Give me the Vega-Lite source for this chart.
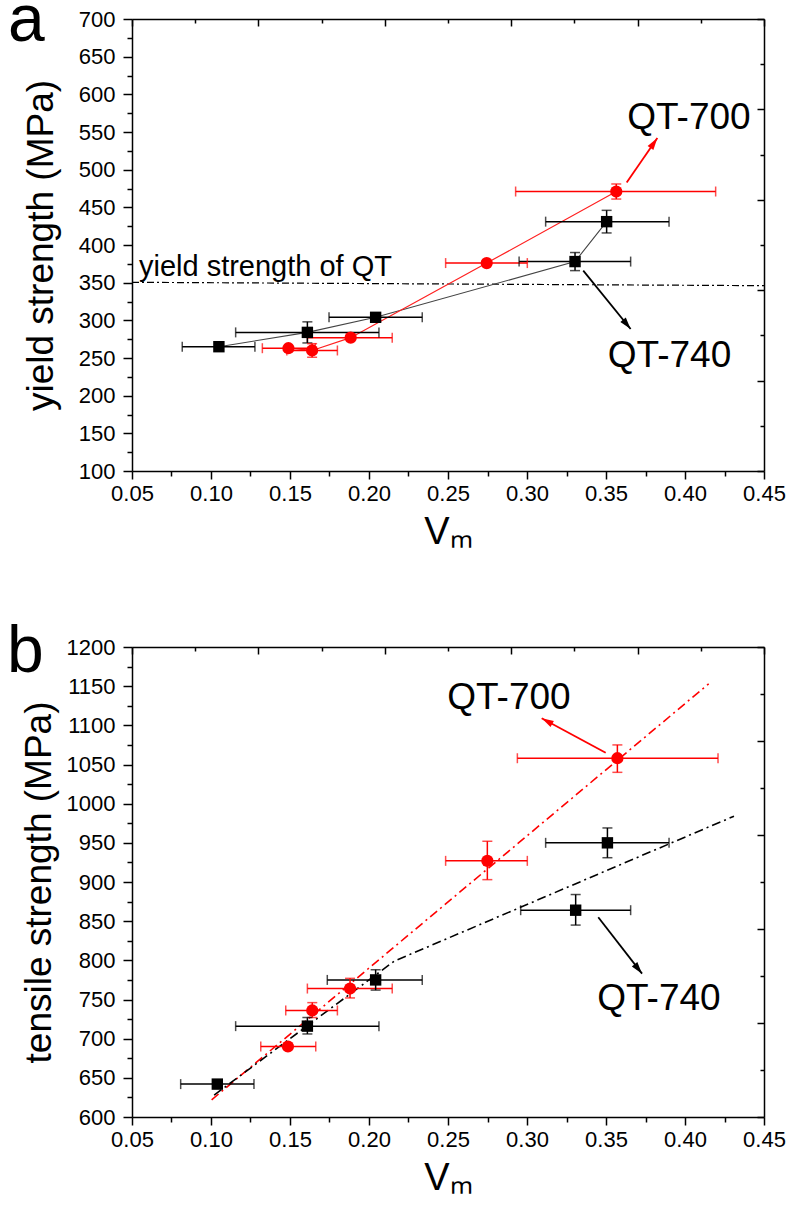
{
  "$schema": "https://vega.github.io/schema/vega-lite/v6.json",
  "padding": {"left": 7, "top": -13, "right": 0, "bottom": 0},
  "spacing": 68,
  "config": {
    "view": {"stroke": null},
    "text": {"font": "Liberation Sans", "color": "black"},
    "axis": {
      "labelFont": "Liberation Sans", "labelFontSize": 22, "labelColor": "black",
      "titleFont": "Liberation Sans", "titleFontSize": 37, "titleFontWeight": "normal", "titleColor": "black",
      "tickColor": "black", "domainColor": "black", "domainWidth": 1.5, "tickWidth": 1.5,
      "grid": false, "labelOverlap": false, "labelFlush": false, "labelBound": false
    }
  },
  "datasets": {
    "pa": [
      {"g": "QT-740", "x": 0.105, "y": 265, "xlo": 0.0818, "xhi": 0.1278},
      {"g": "QT-740", "x": 0.161, "y": 284, "xlo": 0.1156, "xhi": 0.2063, "ylo": 270, "yhi": 298},
      {"g": "QT-740", "x": 0.2042, "y": 304, "xlo": 0.1747, "xhi": 0.2337},
      {"g": "QT-740", "x": 0.3304, "y": 378, "xlo": 0.295, "xhi": 0.3656, "ylo": 366, "yhi": 390},
      {"g": "QT-740", "x": 0.3504, "y": 431, "xlo": 0.3118, "xhi": 0.3899, "ylo": 416, "yhi": 446},
      {"g": "QT-700", "x": 0.149, "y": 263, "xlo": 0.1325, "xhi": 0.166},
      {"g": "QT-700", "x": 0.164, "y": 260, "xlo": 0.148, "xhi": 0.18, "ylo": 251, "yhi": 269},
      {"g": "QT-700", "x": 0.1884, "y": 277, "xlo": 0.161, "xhi": 0.2147},
      {"g": "QT-700", "x": 0.2745, "y": 376, "xlo": 0.2485, "xhi": 0.3002},
      {"g": "QT-700", "x": 0.3565, "y": 471, "xlo": 0.2928, "xhi": 0.4194, "ylo": 461, "yhi": 481}
    ],
    "pb": [
      {"g": "QT-740", "x": 0.104, "y": 642, "xlo": 0.0808, "xhi": 0.1272},
      {"g": "QT-740", "x": 0.161, "y": 716, "xlo": 0.1156, "xhi": 0.2063, "ylo": 706, "yhi": 727},
      {"g": "QT-740", "x": 0.2042, "y": 775, "xlo": 0.1736, "xhi": 0.2337, "ylo": 762, "yhi": 788},
      {"g": "QT-740", "x": 0.3308, "y": 864, "xlo": 0.296, "xhi": 0.3656, "ylo": 845, "yhi": 884},
      {"g": "QT-740", "x": 0.3509, "y": 950, "xlo": 0.3118, "xhi": 0.3899, "ylo": 931, "yhi": 969},
      {"g": "QT-700", "x": 0.1487, "y": 690, "xlo": 0.1315, "xhi": 0.1663},
      {"g": "QT-700", "x": 0.1641, "y": 736, "xlo": 0.1473, "xhi": 0.18, "ylo": 727, "yhi": 746},
      {"g": "QT-700", "x": 0.188, "y": 764, "xlo": 0.161, "xhi": 0.2147, "ylo": 752, "yhi": 777},
      {"g": "QT-700", "x": 0.2749, "y": 927, "xlo": 0.2485, "xhi": 0.3002, "ylo": 903, "yhi": 952},
      {"g": "QT-700", "x": 0.3572, "y": 1058, "xlo": 0.2939, "xhi": 0.4209, "ylo": 1040, "yhi": 1075}
    ]
  },
  "vconcat": [
    {
      "width": 632, "height": 452,
      "resolve": {"axis": {"x": "independent", "y": "independent"}},
      "layer": [
        {
          "data": {"values": [{"x": 0.05, "y": 350.5}, {"x": 0.45, "y": 346}]},
          "mark": {"type": "line", "color": "black", "strokeWidth": 1.2, "strokeDash": [7, 3, 2, 3]},
          "encoding": {
            "x": {"field": "x", "type": "quantitative", "scale": {"domain": [0.05, 0.45], "nice": false, "zero": false},
              "axis": {"orient": "bottom", "values": [0.05,0.075,0.1,0.125,0.15,0.175,0.2,0.225,0.25,0.275,0.3,0.325,0.35,0.375,0.4,0.425,0.45],
                "labelExpr": "abs(datum.value*20 - round(datum.value*20)) < 0.001 ? format(datum.value, '.2f') : ''",
                "tickSize": {"condition": {"test": "abs(datum.value*20 - round(datum.value*20)) < 0.001", "value": 8}, "value": 5},
                "labelPadding": 4, "title": "Vₘ", "titleFontSize": 38, "titlePadding": 9}},
            "y": {"field": "y", "type": "quantitative", "scale": {"domain": [100, 700], "nice": false, "zero": false},
              "axis": {"orient": "left", "format": "d", "values": [100,125,150,175,200,225,250,275,300,325,350,375,400,425,450,475,500,525,550,575,600,625,650,675,700],
                "labelExpr": "datum.value % 50 == 0 ? datum.label : ''",
                "tickSize": {"condition": {"test": "datum.value % 50 == 0", "value": 9}, "value": 5},
                "labelPadding": 8, "title": "yield strength (MPa)", "titlePadding": 18}}
          }
        },
        {
          "data": {"values": [{"t": "yield strength of QT", "x": 0.0544, "y": 358.8}]},
          "mark": {"type": "text", "fontSize": 29, "align": "left", "baseline": "alphabetic"},
          "encoding": {
            "x": {"field": "x", "type": "quantitative", "scale": {"domain": [0.05, 0.45], "nice": false, "zero": false}, "axis": null},
            "y": {"field": "y", "type": "quantitative", "scale": {"domain": [100, 700], "nice": false, "zero": false}, "axis": null},
            "text": {"field": "t"}
          }
        },
        {
          "data": {"name": "pa"},
          "transform": [{"filter": "datum.g == 'QT-740'"}],
          "mark": {"type": "line", "color": "#444444", "strokeWidth": 1.1},
          "encoding": {
            "x": {"field": "x", "type": "quantitative", "scale": {"domain": [0.05, 0.45], "nice": false, "zero": false}, "axis": null},
            "y": {"field": "y", "type": "quantitative", "scale": {"domain": [100, 700], "nice": false, "zero": false}, "axis": null}
          }
        },
        {
          "data": {"name": "pa"},
          "transform": [{"filter": "datum.g == 'QT-700'"}],
          "mark": {"type": "line", "color": "#ff2020", "strokeWidth": 1.2},
          "encoding": {
            "x": {"field": "x", "type": "quantitative", "scale": {"domain": [0.05, 0.45], "nice": false, "zero": false}, "axis": null},
            "y": {"field": "y", "type": "quantitative", "scale": {"domain": [100, 700], "nice": false, "zero": false}, "axis": null}
          }
        },
        {
          "data": {"name": "pa"},
          "mark": {"type": "rule", "strokeWidth": 1.5},
          "encoding": {
            "x": {"field": "xlo", "type": "quantitative", "scale": {"domain": [0.05, 0.45], "nice": false, "zero": false}, "axis": null},
            "x2": {"field": "xhi"},
            "y": {"field": "y", "type": "quantitative", "scale": {"domain": [100, 700], "nice": false, "zero": false}, "axis": null},
            "color": {"field": "g", "type": "nominal", "scale": {"domain": ["QT-740", "QT-700"], "range": ["#000000", "#ff0000"]}, "legend": null}
          }
        },
        {
          "data": {"name": "pa"},
          "mark": {"type": "tick", "orient": "vertical", "size": 10, "thickness": 1.5},
          "encoding": {
            "x": {"field": "xlo", "type": "quantitative", "scale": {"domain": [0.05, 0.45], "nice": false, "zero": false}, "axis": null},
            "y": {"field": "y", "type": "quantitative", "scale": {"domain": [100, 700], "nice": false, "zero": false}, "axis": null},
            "color": {"field": "g", "type": "nominal", "scale": {"domain": ["QT-740", "QT-700"], "range": ["#000000", "#ff0000"]}, "legend": null}
          }
        },
        {
          "data": {"name": "pa"},
          "mark": {"type": "tick", "orient": "vertical", "size": 10, "thickness": 1.5},
          "encoding": {
            "x": {"field": "xhi", "type": "quantitative", "scale": {"domain": [0.05, 0.45], "nice": false, "zero": false}, "axis": null},
            "y": {"field": "y", "type": "quantitative", "scale": {"domain": [100, 700], "nice": false, "zero": false}, "axis": null},
            "color": {"field": "g", "type": "nominal", "scale": {"domain": ["QT-740", "QT-700"], "range": ["#000000", "#ff0000"]}, "legend": null}
          }
        },
        {
          "data": {"name": "pa"},
          "transform": [{"filter": "isValid(datum.ylo)"}],
          "mark": {"type": "rule", "strokeWidth": 1.5},
          "encoding": {
            "x": {"field": "x", "type": "quantitative", "scale": {"domain": [0.05, 0.45], "nice": false, "zero": false}, "axis": null},
            "y": {"field": "ylo", "type": "quantitative", "scale": {"domain": [100, 700], "nice": false, "zero": false}, "axis": null},
            "y2": {"field": "yhi"},
            "color": {"field": "g", "type": "nominal", "scale": {"domain": ["QT-740", "QT-700"], "range": ["#000000", "#ff0000"]}, "legend": null}
          }
        },
        {
          "data": {"name": "pa"},
          "transform": [{"filter": "isValid(datum.ylo)"}],
          "mark": {"type": "tick", "orient": "horizontal", "size": 10, "thickness": 1.5},
          "encoding": {
            "x": {"field": "x", "type": "quantitative", "scale": {"domain": [0.05, 0.45], "nice": false, "zero": false}, "axis": null},
            "y": {"field": "ylo", "type": "quantitative", "scale": {"domain": [100, 700], "nice": false, "zero": false}, "axis": null},
            "color": {"field": "g", "type": "nominal", "scale": {"domain": ["QT-740", "QT-700"], "range": ["#000000", "#ff0000"]}, "legend": null}
          }
        },
        {
          "data": {"name": "pa"},
          "transform": [{"filter": "isValid(datum.yhi)"}],
          "mark": {"type": "tick", "orient": "horizontal", "size": 10, "thickness": 1.5},
          "encoding": {
            "x": {"field": "x", "type": "quantitative", "scale": {"domain": [0.05, 0.45], "nice": false, "zero": false}, "axis": null},
            "y": {"field": "yhi", "type": "quantitative", "scale": {"domain": [100, 700], "nice": false, "zero": false}, "axis": null},
            "color": {"field": "g", "type": "nominal", "scale": {"domain": ["QT-740", "QT-700"], "range": ["#000000", "#ff0000"]}, "legend": null}
          }
        },
        {
          "data": {"values": [
            {"id": 1, "g": "QT-700", "x": 0.3631, "y": 483}, {"id": 1, "g": "QT-700", "x": 0.3825, "y": 542},
            {"id": 2, "g": "QT-740", "x": 0.3356, "y": 366}, {"id": 2, "g": "QT-740", "x": 0.3656, "y": 288.5}
          ]},
          "mark": {"type": "line", "strokeWidth": 1.8},
          "encoding": {
            "x": {"field": "x", "type": "quantitative", "scale": {"domain": [0.05, 0.45], "nice": false, "zero": false}, "axis": null},
            "y": {"field": "y", "type": "quantitative", "scale": {"domain": [100, 700], "nice": false, "zero": false}, "axis": null},
            "detail": {"field": "id"},
            "color": {"field": "g", "type": "nominal", "scale": {"domain": ["QT-740", "QT-700"], "range": ["#000000", "#ff0000"]}, "legend": null}
          }
        },
        {
          "data": {"values": [
            {"g": "QT-700", "x": 0.3825, "y": 542, "a": 34.8},
            {"g": "QT-740", "x": 0.3656, "y": 288.5, "a": 140.9}
          ]},
          "mark": {"type": "point", "shape": "M0,0L0.7,2.4L-0.7,2.4Z", "filled": true, "opacity": 1, "size": 100},
          "encoding": {
            "x": {"field": "x", "type": "quantitative", "scale": {"domain": [0.05, 0.45], "nice": false, "zero": false}, "axis": null},
            "y": {"field": "y", "type": "quantitative", "scale": {"domain": [100, 700], "nice": false, "zero": false}, "axis": null},
            "angle": {"field": "a", "type": "quantitative", "scale": null},
            "color": {"field": "g", "type": "nominal", "scale": {"domain": ["QT-740", "QT-700"], "range": ["#000000", "#ff0000"]}, "legend": null}
          }
        },
        {
          "data": {"name": "pa"},
          "mark": {"type": "point", "filled": true, "opacity": 1},
          "encoding": {
            "x": {"field": "x", "type": "quantitative", "scale": {"domain": [0.05, 0.45], "nice": false, "zero": false},
              "axis": {"orient": "top", "values": [0.05,0.09,0.13,0.17,0.21,0.25,0.29,0.33,0.37,0.41,0.45], "labels": false, "title": null,
                "tickSize": {"condition": {"test": "abs((datum.value-0.05)/0.08 - round((datum.value-0.05)/0.08)) < 0.01", "value": -7}, "value": -4}}},
            "y": {"field": "y", "type": "quantitative", "scale": {"domain": [100, 700], "nice": false, "zero": false},
              "axis": {"orient": "right", "values": [100,160,220,280,340,400,460,520,580,640,700], "labels": false, "title": null,
                "tickSize": {"condition": {"test": "(datum.value-100) % 120 == 0", "value": -7}, "value": -4}}},
            "color": {"field": "g", "type": "nominal", "scale": {"domain": ["QT-740", "QT-700"], "range": ["#000000", "#ff0000"]}, "legend": null},
            "shape": {"field": "g", "type": "nominal", "scale": {"domain": ["QT-740", "QT-700"], "range": ["square", "circle"]}, "legend": null},
            "size": {"field": "g", "type": "nominal", "scale": {"domain": ["QT-740", "QT-700"], "range": [130, 150]}, "legend": null}
          }
        },
        {
          "data": {"values": [{"t": "QT-700", "x": 0.4025, "y": 554}, {"t": "QT-740", "x": 0.3902, "y": 238}]},
          "mark": {"type": "text", "fontSize": 37, "align": "center", "baseline": "alphabetic"},
          "encoding": {
            "x": {"field": "x", "type": "quantitative", "scale": {"domain": [0.05, 0.45], "nice": false, "zero": false}, "axis": null},
            "y": {"field": "y", "type": "quantitative", "scale": {"domain": [100, 700], "nice": false, "zero": false}, "axis": null},
            "text": {"field": "t"}
          }
        },
        {
          "data": {"values": [{"t": "a", "x": -0.0285, "y": 670.8}]},
          "mark": {"type": "text", "fontSize": 66, "align": "left", "baseline": "alphabetic"},
          "encoding": {
            "x": {"field": "x", "type": "quantitative", "scale": {"domain": [0.05, 0.45], "nice": false, "zero": false}, "axis": null},
            "y": {"field": "y", "type": "quantitative", "scale": {"domain": [100, 700], "nice": false, "zero": false}, "axis": null},
            "text": {"field": "t"}
          }
        }
      ]
    },
    {
      "width": 632, "height": 470,
      "resolve": {"axis": {"x": "independent", "y": "independent"}},
      "layer": [
        {
          "data": {"values": [{"g": "QT-700", "x": 0.1004, "y": 622}, {"g": "QT-700", "x": 0.415, "y": 1153}]},
          "mark": {"type": "line", "strokeWidth": 1.6, "strokeDash": [9, 4, 2, 4]},
          "encoding": {
            "x": {"field": "x", "type": "quantitative", "scale": {"domain": [0.05, 0.45], "nice": false, "zero": false},
              "axis": {"orient": "bottom", "values": [0.05,0.075,0.1,0.125,0.15,0.175,0.2,0.225,0.25,0.275,0.3,0.325,0.35,0.375,0.4,0.425,0.45],
                "labelExpr": "abs(datum.value*20 - round(datum.value*20)) < 0.001 ? format(datum.value, '.2f') : ''",
                "tickSize": {"condition": {"test": "abs(datum.value*20 - round(datum.value*20)) < 0.001", "value": 8}, "value": 5},
                "labelPadding": 4, "title": "Vₘ", "titleFontSize": 38, "titlePadding": 9}},
            "y": {"field": "y", "type": "quantitative", "scale": {"domain": [600, 1200], "nice": false, "zero": false},
              "axis": {"orient": "left", "format": "d", "values": [600,625,650,675,700,725,750,775,800,825,850,875,900,925,950,975,1000,1025,1050,1075,1100,1125,1150,1175,1200],
                "labelExpr": "datum.value % 50 == 0 ? datum.label : ''",
                "tickSize": {"condition": {"test": "datum.value % 50 == 0", "value": 9}, "value": 5},
                "labelPadding": 8, "title": "tensile strength (MPa)", "titlePadding": 8}},
            "color": {"field": "g", "type": "nominal", "scale": {"domain": ["QT-740", "QT-700"], "range": ["#000000", "#ff0000"]}, "legend": null}
          }
        },
        {
          "data": {"values": [{"g": "QT-740", "x": 0.102, "y": 628}, {"g": "QT-740", "x": 0.216, "y": 799}, {"g": "QT-740", "x": 0.431, "y": 984}]},
          "mark": {"type": "line", "strokeWidth": 1.6, "strokeDash": [9, 4, 2, 4]},
          "encoding": {
            "x": {"field": "x", "type": "quantitative", "scale": {"domain": [0.05, 0.45], "nice": false, "zero": false}, "axis": null},
            "y": {"field": "y", "type": "quantitative", "scale": {"domain": [600, 1200], "nice": false, "zero": false}, "axis": null},
            "color": {"field": "g", "type": "nominal", "scale": {"domain": ["QT-740", "QT-700"], "range": ["#333333", "#ff0000"]}, "legend": null}
          }
        },
        {
          "data": {"name": "pb"},
          "mark": {"type": "rule", "strokeWidth": 1.5},
          "encoding": {
            "x": {"field": "xlo", "type": "quantitative", "scale": {"domain": [0.05, 0.45], "nice": false, "zero": false}, "axis": null},
            "x2": {"field": "xhi"},
            "y": {"field": "y", "type": "quantitative", "scale": {"domain": [600, 1200], "nice": false, "zero": false}, "axis": null},
            "color": {"field": "g", "type": "nominal", "scale": {"domain": ["QT-740", "QT-700"], "range": ["#000000", "#ff0000"]}, "legend": null}
          }
        },
        {
          "data": {"name": "pb"},
          "mark": {"type": "tick", "orient": "vertical", "size": 10, "thickness": 1.5},
          "encoding": {
            "x": {"field": "xlo", "type": "quantitative", "scale": {"domain": [0.05, 0.45], "nice": false, "zero": false}, "axis": null},
            "y": {"field": "y", "type": "quantitative", "scale": {"domain": [600, 1200], "nice": false, "zero": false}, "axis": null},
            "color": {"field": "g", "type": "nominal", "scale": {"domain": ["QT-740", "QT-700"], "range": ["#000000", "#ff0000"]}, "legend": null}
          }
        },
        {
          "data": {"name": "pb"},
          "mark": {"type": "tick", "orient": "vertical", "size": 10, "thickness": 1.5},
          "encoding": {
            "x": {"field": "xhi", "type": "quantitative", "scale": {"domain": [0.05, 0.45], "nice": false, "zero": false}, "axis": null},
            "y": {"field": "y", "type": "quantitative", "scale": {"domain": [600, 1200], "nice": false, "zero": false}, "axis": null},
            "color": {"field": "g", "type": "nominal", "scale": {"domain": ["QT-740", "QT-700"], "range": ["#000000", "#ff0000"]}, "legend": null}
          }
        },
        {
          "data": {"name": "pb"},
          "transform": [{"filter": "isValid(datum.ylo)"}],
          "mark": {"type": "rule", "strokeWidth": 1.5},
          "encoding": {
            "x": {"field": "x", "type": "quantitative", "scale": {"domain": [0.05, 0.45], "nice": false, "zero": false}, "axis": null},
            "y": {"field": "ylo", "type": "quantitative", "scale": {"domain": [600, 1200], "nice": false, "zero": false}, "axis": null},
            "y2": {"field": "yhi"},
            "color": {"field": "g", "type": "nominal", "scale": {"domain": ["QT-740", "QT-700"], "range": ["#000000", "#ff0000"]}, "legend": null}
          }
        },
        {
          "data": {"name": "pb"},
          "transform": [{"filter": "isValid(datum.ylo)"}],
          "mark": {"type": "tick", "orient": "horizontal", "size": 10, "thickness": 1.5},
          "encoding": {
            "x": {"field": "x", "type": "quantitative", "scale": {"domain": [0.05, 0.45], "nice": false, "zero": false}, "axis": null},
            "y": {"field": "ylo", "type": "quantitative", "scale": {"domain": [600, 1200], "nice": false, "zero": false}, "axis": null},
            "color": {"field": "g", "type": "nominal", "scale": {"domain": ["QT-740", "QT-700"], "range": ["#000000", "#ff0000"]}, "legend": null}
          }
        },
        {
          "data": {"name": "pb"},
          "transform": [{"filter": "isValid(datum.yhi)"}],
          "mark": {"type": "tick", "orient": "horizontal", "size": 10, "thickness": 1.5},
          "encoding": {
            "x": {"field": "x", "type": "quantitative", "scale": {"domain": [0.05, 0.45], "nice": false, "zero": false}, "axis": null},
            "y": {"field": "yhi", "type": "quantitative", "scale": {"domain": [600, 1200], "nice": false, "zero": false}, "axis": null},
            "color": {"field": "g", "type": "nominal", "scale": {"domain": ["QT-740", "QT-700"], "range": ["#000000", "#ff0000"]}, "legend": null}
          }
        },
        {
          "data": {"values": [
            {"id": 1, "g": "QT-700", "x": 0.3498, "y": 1065}, {"id": 1, "g": "QT-700", "x": 0.3093, "y": 1109},
            {"id": 2, "g": "QT-740", "x": 0.3451, "y": 855}, {"id": 2, "g": "QT-740", "x": 0.3728, "y": 783}
          ]},
          "mark": {"type": "line", "strokeWidth": 1.8},
          "encoding": {
            "x": {"field": "x", "type": "quantitative", "scale": {"domain": [0.05, 0.45], "nice": false, "zero": false}, "axis": null},
            "y": {"field": "y", "type": "quantitative", "scale": {"domain": [600, 1200], "nice": false, "zero": false}, "axis": null},
            "detail": {"field": "id"},
            "color": {"field": "g", "type": "nominal", "scale": {"domain": ["QT-740", "QT-700"], "range": ["#000000", "#ff0000"]}, "legend": null}
          }
        },
        {
          "data": {"values": [
            {"g": "QT-700", "x": 0.3093, "y": 1109, "a": 298.7},
            {"g": "QT-740", "x": 0.3728, "y": 783, "a": 141.8}
          ]},
          "mark": {"type": "point", "shape": "M0,0L0.7,2.4L-0.7,2.4Z", "filled": true, "opacity": 1, "size": 100},
          "encoding": {
            "x": {"field": "x", "type": "quantitative", "scale": {"domain": [0.05, 0.45], "nice": false, "zero": false}, "axis": null},
            "y": {"field": "y", "type": "quantitative", "scale": {"domain": [600, 1200], "nice": false, "zero": false}, "axis": null},
            "angle": {"field": "a", "type": "quantitative", "scale": null},
            "color": {"field": "g", "type": "nominal", "scale": {"domain": ["QT-740", "QT-700"], "range": ["#000000", "#ff0000"]}, "legend": null}
          }
        },
        {
          "data": {"name": "pb"},
          "mark": {"type": "point", "filled": true, "opacity": 1},
          "encoding": {
            "x": {"field": "x", "type": "quantitative", "scale": {"domain": [0.05, 0.45], "nice": false, "zero": false},
              "axis": {"orient": "top", "values": [0.05,0.09,0.13,0.17,0.21,0.25,0.29,0.33,0.37,0.41,0.45], "labels": false, "title": null,
                "tickSize": {"condition": {"test": "abs((datum.value-0.05)/0.08 - round((datum.value-0.05)/0.08)) < 0.01", "value": -7}, "value": -4}}},
            "y": {"field": "y", "type": "quantitative", "scale": {"domain": [600, 1200], "nice": false, "zero": false},
              "axis": {"orient": "right", "values": [600,660,720,780,840,900,960,1020,1080,1140,1200], "labels": false, "title": null,
                "tickSize": {"condition": {"test": "(datum.value-600) % 120 == 0", "value": -7}, "value": -4}}},
            "color": {"field": "g", "type": "nominal", "scale": {"domain": ["QT-740", "QT-700"], "range": ["#000000", "#ff0000"]}, "legend": null},
            "shape": {"field": "g", "type": "nominal", "scale": {"domain": ["QT-740", "QT-700"], "range": ["square", "circle"]}, "legend": null},
            "size": {"field": "g", "type": "nominal", "scale": {"domain": ["QT-740", "QT-700"], "range": [130, 150]}, "legend": null}
          }
        },
        {
          "data": {"values": [{"t": "QT-700", "x": 0.2886, "y": 1121}, {"t": "QT-740", "x": 0.3835, "y": 737}]},
          "mark": {"type": "text", "fontSize": 37, "align": "center", "baseline": "alphabetic"},
          "encoding": {
            "x": {"field": "x", "type": "quantitative", "scale": {"domain": [0.05, 0.45], "nice": false, "zero": false}, "axis": null},
            "y": {"field": "y", "type": "quantitative", "scale": {"domain": [600, 1200], "nice": false, "zero": false}, "axis": null},
            "text": {"field": "t"}
          }
        },
        {
          "data": {"values": [{"t": "b", "x": -0.0291, "y": 1168}]},
          "mark": {"type": "text", "fontSize": 66, "align": "left", "baseline": "alphabetic"},
          "encoding": {
            "x": {"field": "x", "type": "quantitative", "scale": {"domain": [0.05, 0.45], "nice": false, "zero": false}, "axis": null},
            "y": {"field": "y", "type": "quantitative", "scale": {"domain": [600, 1200], "nice": false, "zero": false}, "axis": null},
            "text": {"field": "t"}
          }
        }
      ]
    }
  ]
}
